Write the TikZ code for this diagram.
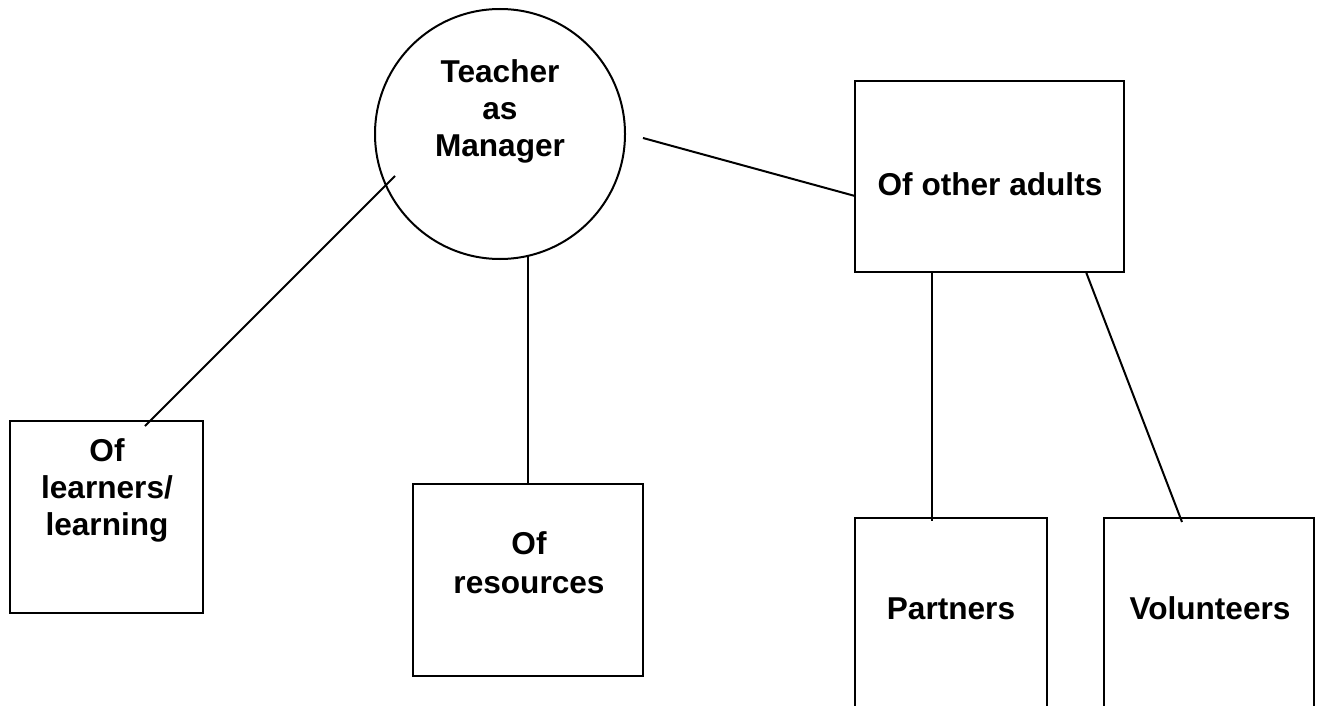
\documentclass[tikz,border=0pt]{standalone}
\usepackage{fontspec}
\setmainfont{Liberation Sans}
\usetikzlibrary{calc}
\begin{document}
\begin{tikzpicture}[x=1pt,y=-1pt,
  line width=2pt,
  box/.style={draw=black, rectangle, inner sep=0pt, outer sep=0pt},
  lbl/.style={inner sep=0pt, outer sep=0pt, align=center, anchor=base,
    font=\bfseries\fontsize{31.6}{37}\selectfont},
  link/.style={draw=black, line width=2pt}]
\useasboundingbox (0,0) rectangle (1323,706);
\clip (0,0) rectangle (1323,706);

% central circle
\node[draw=black, circle, inner sep=0pt, outer sep=0pt, minimum size=250pt] (mgr) at (500,134) {};
% multi-line labels are anchored at the baseline of their last line
\node[lbl] (mgrtxt) at (500,157) {Teacher\\as\\Manager};

% boxes
\node[box, minimum width=193pt, minimum height=192pt] (learn) at (106.5,517) {};
\node[box, minimum width=230pt, minimum height=192pt] (res) at (528,580) {};
\node[box, minimum width=269pt, minimum height=191pt] (other) at (989.5,176.5) {};
\node[box, minimum width=192pt, minimum height=192pt] (part) at (951,614) {};
\node[box, minimum width=210pt, minimum height=192pt] (vol) at (1209,614) {};

% labels
\node[lbl] (learntxt) at (107,535) {Of\\learners/\\learning};
\node[lbl, font=\bfseries\fontsize{31.6}{39}\selectfont] (restxt) at (529,593) {Of\\resources};
\node[lbl] (othertxt) at (990,195) {Of other adults};
\node[lbl] (parttxt) at (951,619) {Partners};
\node[lbl] (voltxt) at (1210,619) {Volunteers};

% connector end points
\coordinate (mgrA) at ($(mgr.center)+(-105,42)$);
\coordinate (mgrC) at ($(mgr.center)+(143,4)$);
\coordinate (learnTop) at ($(learn.north west)+(135,5)$);
\coordinate (otherW) at ($(other.west)+(0,19.5)$);
\coordinate (otherB1) at ($(other.south west)+(77,0)$);
\coordinate (otherB2) at ($(other.south east)+(-38,0)$);
\coordinate (partTop) at ($(part.north west)+(77,3)$);
\coordinate (volTop) at ($(vol.north west)+(78,4)$);

% connectors
\draw[link] (mgrA) -- (learnTop);
\draw[link] (mgr.-77) -- (res.north -| mgr.-77);
\draw[link] (mgrC) -- (otherW);
\draw[link] (otherB1) -- (partTop);
\draw[link] (otherB2) -- (volTop);
\end{tikzpicture}
\end{document}
